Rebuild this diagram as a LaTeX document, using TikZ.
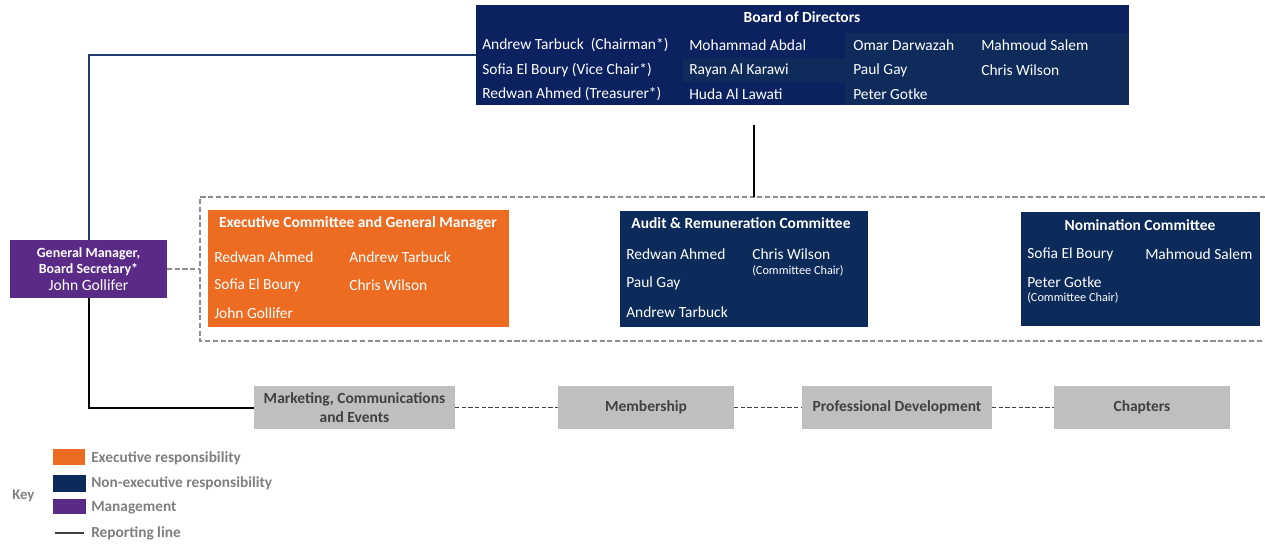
\documentclass[tikz,border=0pt]{standalone}
\usepackage{fontspec}
\setmainfont{Carlito}
\definecolor{boardnavy}{HTML}{0B2160}
\definecolor{cellnavy}{HTML}{0E2B5C}
\definecolor{comnavy}{HTML}{0C2A5A}
\definecolor{execorange}{HTML}{EE6C22}
\definecolor{mgmtpurple}{HTML}{5B2A86}
\definecolor{unitgray}{HTML}{BFBFBF}
\definecolor{darktxt}{HTML}{404040}
\definecolor{keytxt}{HTML}{7F7F7F}
\definecolor{dashgray}{HTML}{8C8C8C}
\definecolor{linenavy}{HTML}{1F3B70}
\begin{document}
\begin{tikzpicture}[x=0.75pt,y=-0.75pt,
  sz/.style 2 args={minimum width=#1*0.75pt, minimum height=#2*0.75pt, inner sep=0pt, outer sep=0pt},
  nm/.style={anchor=west, text=white, font=\fontsize{11.6}{13}\selectfont, inner sep=0pt},
  small/.style={anchor=west, text=white, font=\fontsize{9.2}{10}\selectfont, inner sep=0pt},
  ttl/.style={text=white, font=\bfseries\fontsize{11.6}{13}\selectfont, inner sep=0pt},
  unit/.style={fill=unitgray, text=darktxt, font=\bfseries\fontsize{11.6}{14}\selectfont, align=center},
  dline/.style={dashed, dash pattern=on 3.8pt off 2pt, draw=dashgray, line width=1.4pt},
  udline/.style={dashed, dash pattern=on 3.2pt off 1.8pt, draw=darktxt, line width=1.1pt},
  keylbl/.style={anchor=west, text=keytxt, font=\bfseries\fontsize{11.5}{13}\selectfont, inner sep=0pt}
]
\useasboundingbox (0,0) rectangle (1265,546);

% Board of Directors
\node[sz={653}{100}, fill=boardnavy] (board) at (802.5,55) {};
\fill[cellnavy] (683,58) rectangle (845,82);
\fill[cellnavy] (845,33) rectangle (1129,105);
\node[ttl] (bt) at (802,17) {Board of Directors};
\node[nm] (b11) at (482,45) {Andrew Tarbuck\ \ (Chairman*)};
\node[nm] (b21) at (482,70) {Sofia El Boury (Vice Chair*)};
\node[nm] (b31) at (482,94) {Redwan Ahmed (Treasurer*)};
\node[nm] (b12) at (689,45) {Mohammad Abdal};
\node[nm] (b22) at (689,70) {Rayan Al Karawi};
\node[nm] (b32) at (689,94) {Huda Al Lawati};
\node[nm] (b13) at (853,45) {Omar Darwazah};
\node[nm] (b23) at (853,70) {Paul Gay};
\node[nm] (b33) at (853,94) {Peter Gotke};
\node[nm] (b14) at (981,45) {Mahmoud Salem};
\node[nm] (b24) at (981,70) {Chris Wilson};

% General Manager
\node[sz={157}{58}, fill=mgmtpurple, text=white, align=center] (gm) at (88.5,269)
  {\fontsize{10.5}{12.5}\selectfont\bfseries General Manager,\\[-0.2pt]
   \fontsize{10.5}{12.5}\selectfont\bfseries Board Secretary*\\[0.8pt]
   \fontsize{11.7}{13}\selectfont John Gollifer};

% Committee group (dashed)
\draw[dline] (1265,197) -- (200,197) -- (200,341) -- (1265,341);
\coordinate (grp) at (200,269);
\coordinate (grptop) at (754,197);
\coordinate (bstub) at (754,125);

% Executive Committee
\node[sz={301}{117}, fill=execorange] (exec) at (358.5,268.5) {};
\node[ttl] (et) at (358,223) {Executive Committee and General Manager};
\node[nm] (e11) at (214,257) {Redwan Ahmed};
\node[nm] (e21) at (214,285) {Sofia El Boury};
\node[nm] (e31) at (214,313) {John Gollifer};
\node[nm] (e12) at (349,257) {Andrew Tarbuck};
\node[nm] (e22) at (349,285) {Chris Wilson};

% Audit & Remuneration
\node[sz={248}{116}, fill=comnavy] (audit) at (744,269) {};
\node[ttl] (at) at (741,223) {Audit \& Remuneration Committee};
\node[nm] (a11) at (626,254) {Redwan Ahmed};
\node[nm] (a21) at (626,283) {Paul Gay};
\node[nm] (a31) at (626,312) {Andrew Tarbuck};
\node[nm] (a12) at (752,254) {Chris Wilson};
\node[small] (a12c) at (752,271) {(Committee Chair)};

% Nomination
\node[sz={239}{114}, fill=comnavy] (nom) at (1140.5,269) {};
\node[ttl] (nt) at (1140,225) {Nomination Committee};
\node[nm] (n11) at (1027,254) {Sofia El Boury};
\node[nm] (n12) at (1145,254) {Mahmoud Salem};
\node[nm] (n21) at (1027,282) {Peter Gotke};
\node[small] (n21c) at (1027,298) {(Committee Chair)};

% Units
\node[unit, sz={201}{43}] (mkt) at (354.5,407.5) {Marketing, Communications\\and Events};
\node[unit, sz={176}{43}] (mem) at (646,407.5) {Membership};
\node[unit, sz={190}{43}] (prof) at (897,407.5) {Professional Development};
\node[unit, sz={176}{43}] (chap) at (1142,407.5) {Chapters};

% Connectors
\draw[linenavy, line width=1.5pt] (board.west) -| (gm.north);
\draw[black, line width=1.5pt] (gm.south) |- (mkt.west);
\draw[black, line width=1.5pt] (bstub) -- (grptop);
\draw[dline] (gm.east) -- (grp);
\draw[udline] (mkt.east) -- (mem.west);
\draw[udline] (mem.east) -- (prof.west);
\draw[udline] (prof.east) -- (chap.west);

% Key
\node[anchor=west, text=keytxt, font=\bfseries\fontsize{11}{12}\selectfont, inner sep=0pt] (key) at (12,496) {Key};
\node[sz={32}{16}, fill=execorange] (k1) at (69,457) {};
\node[sz={33}{17}, fill=comnavy] (k2) at (69.5,483.5) {};
\node[sz={33}{15}, fill=mgmtpurple] (k3) at (69.5,506.5) {};
\coordinate (k4a) at (55,533);
\coordinate (k4b) at (84,533);
\draw[draw=darktxt, line width=1.3pt] (k4a) -- (k4b);
\node[keylbl] (l1) at (91,458) {Executive responsibility};
\node[keylbl] (l2) at (91,483) {Non-executive responsibility};
\node[keylbl] (l3) at (91,508) {Management};
\node[keylbl] (l4) at (91,533) {Reporting line};
\end{tikzpicture}
\end{document}
